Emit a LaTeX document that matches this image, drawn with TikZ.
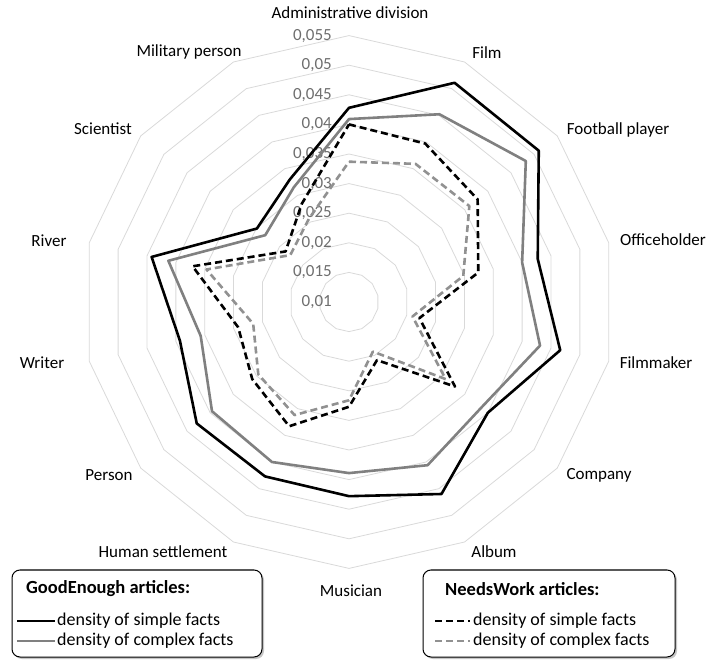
\documentclass[tikz,border=0pt]{standalone}
\usepackage{fontspec}
\setmainfont{Carlito}
\usepackage{xcolor}
\usetikzlibrary{shadows}

\definecolor{ringgray}{RGB}{217,217,217}
\definecolor{valgray}{RGB}{110,110,110}
\definecolor{linegray}{RGB}{128,128,128}
\definecolor{dashgray}{RGB}{145,145,145}

% one closed line through the 14 spokes, values in thousandths
\newcommand{\radarseries}[3]{%
  \foreach \val [count=\k from 0] in {#3}
    \coordinate (#1\k) at ({90-\k*360/14}:{(\val-10)*5.92});
  \draw[#2] (#10) \foreach \k in {1,...,13} {-- (#1\k)} -- cycle;
}

\begin{document}
\begin{tikzpicture}[x=1pt, y=1pt,
    ring/.style={draw=ringgray, line width=0.8pt},
    ticklabel/.style={text=valgray, anchor=east, inner sep=0pt, font=\fontsize{17}{20}\selectfont},
    axislabel/.style={inner sep=0pt, font=\fontsize{17}{20}\selectfont},
    goodsimple/.style={draw=black, line width=2.6pt, line join=round},
    goodcomplex/.style={draw=linegray, line width=2.6pt, line join=round},
    worksimple/.style={draw=black, line width=2.6pt, line join=round, dash pattern=on 7pt off 4pt},
    workcomplex/.style={draw=dashgray, line width=2.6pt, line join=round, dash pattern=on 7pt off 4pt},
    legendbox/.style={draw=black, line width=1pt, rounded corners=8pt, fill=white,
        drop shadow={shadow xshift=2pt, shadow yshift=-2pt, opacity=.45}},
    legendtitle/.style={anchor=west, inner sep=0pt, font=\fontsize{18.5}{21}\selectfont\bfseries},
    legendtext/.style={anchor=west, inner sep=0pt, font=\fontsize{18}{20}\selectfont}]
  \useasboundingbox (0,0) rectangle (710,662);

  \begin{scope}[shift={(349,360)}]
    % grid rings
    \foreach \v in {15,20,...,55}
      \draw[ring] (90:{(\v-10)*5.92}) \foreach \k in {1,...,13} {-- ({90-\k*360/14}:{(\v-10)*5.92})} -- cycle;

    % scale values
    \foreach \v/\lab in {10/{0,01},15/{0,015},20/{0,02},25/{0,025},30/{0,03},
                         35/{0,035},40/{0,04},45/{0,045},50/{0,05},55/{0,055}}
      \node[ticklabel] (tick\v) at (-17,{(\v-10)*5.92}) {\lab};

    \radarseries{gs}{goodsimple}{42.8,51.1,51.0,42.7,46.6,40.0,46.0,42.8,42.7,42.9,39.3,44.2,29.9,33.0}
    \radarseries{gc}{goodcomplex}{40.9,45.2,48.2,40.0,43.1,38.6,40.6,38.9,40.0,39.6,35.7,41.3,28.1,31.5}
    \radarseries{ws}{worksimple}{40.0,39.7,37.8,32.4,22.2,32.9,20.9,27.7,33.3,30.9,29.2,37.1,23.7,28.4}
    \radarseries{wc}{workcomplex}{33.7,35.9,36.0,29.8,21.0,30.9,19.3,26.6,31.2,29.6,26.6,34.7,22.7,25.6}
  \end{scope}

  % spoke names
  \node[axislabel] (admin) at (350,649) {Administrative division};
  \node[axislabel] (film) at (487,609) {Film};
  \node[axislabel] (football) at (618,532) {Football player};
  \node[axislabel] (office) at (663,422) {Officeholder};
  \node[axislabel] (filmmaker) at (656,299) {Filmmaker};
  \node[axislabel] (company) at (599,187) {Company};
  \node[axislabel] (album) at (494,110) {Album};
  \node[axislabel] (musician) at (351,71) {Musician};
  \node[axislabel] (settlement) at (163,110) {Human settlement};
  \node[axislabel] (person) at (109,187) {Person};
  \node[axislabel] (writer) at (42,299) {Writer};
  \node[axislabel] (river) at (49,421) {River};
  \node[axislabel] (scientist) at (103,533) {Scientist};
  \node[axislabel] (military) at (189,610) {Military person};

  % legend, GoodEnough
  \draw[legendbox] (12,5) rectangle (262,92);
  \node[legendtitle] (goodtitle) at (26,73) {GoodEnough articles:};
  \coordinate (gsa) at (17,41);
  \coordinate (gsb) at (55,41);
  \coordinate (gca) at (17,21);
  \coordinate (gcb) at (55,21);
  \draw[goodsimple] (gsa) -- (gsb);
  \draw[goodcomplex] (gca) -- (gcb);
  \node[legendtext] (gstext) at (57,41) {density of simple facts};
  \node[legendtext] (gctext) at (57,21) {density of complex facts};

  % legend, NeedsWork
  \draw[legendbox] (423,5) rectangle (675,92);
  \node[legendtitle] (worktitle) at (445,73) {NeedsWork articles:};
  \coordinate (wsa) at (435,41);
  \coordinate (wsb) at (470,41);
  \coordinate (wca) at (435,21);
  \coordinate (wcb) at (470,21);
  \draw[worksimple] (wsa) -- (wsb);
  \draw[workcomplex] (wca) -- (wcb);
  \node[legendtext] (wstext) at (473,41) {density of simple facts};
  \node[legendtext] (wctext) at (473,21) {density of complex facts};
\end{tikzpicture}
\end{document}
